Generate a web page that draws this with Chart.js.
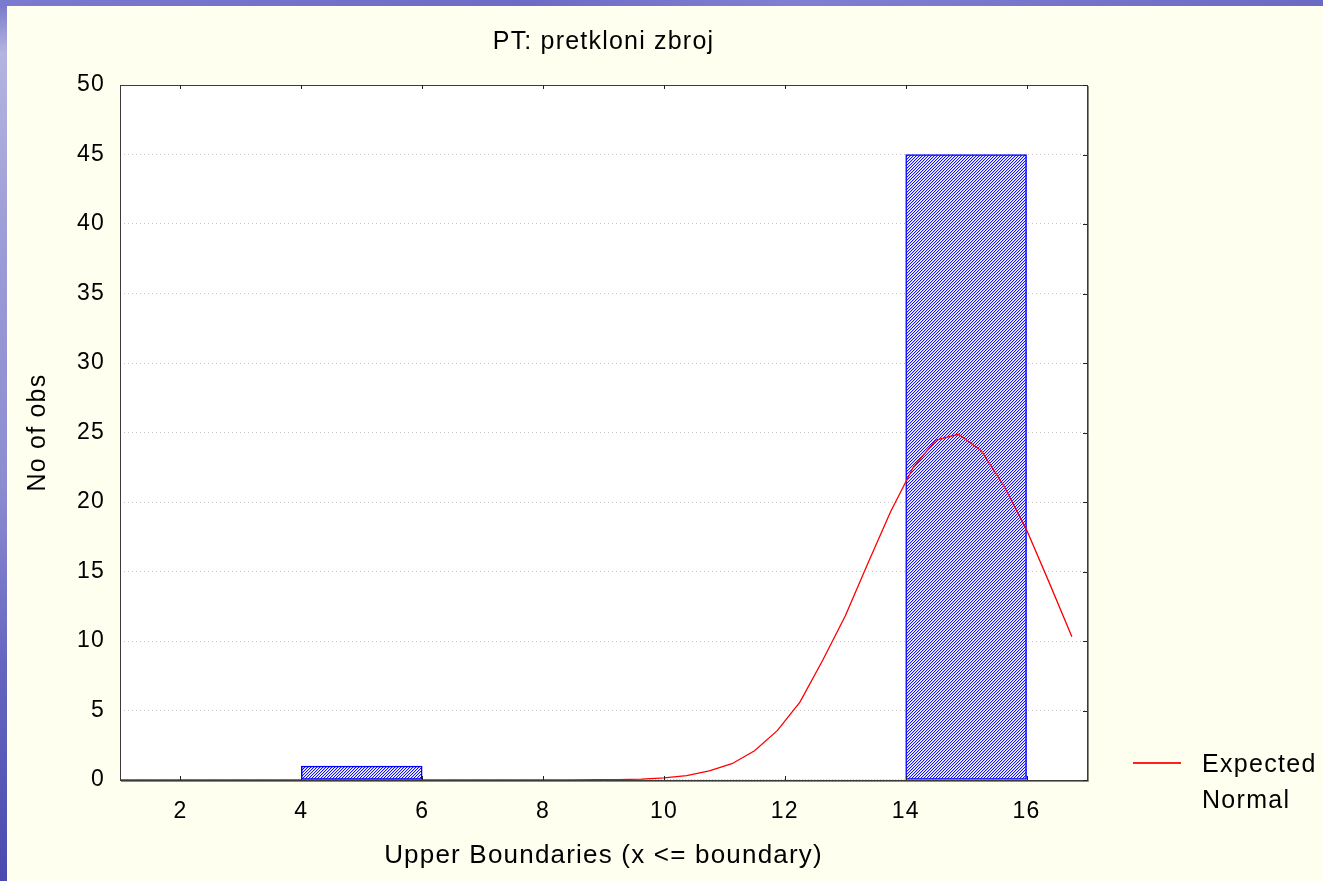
<!DOCTYPE html>
<html>
<head>
<meta charset="utf-8">
<script src="https://cdn.jsdelivr.net/npm/chart.js@4"></script>
<style>
  html, body { margin: 0; padding: 0; }
  body {
    width: 1323px; height: 881px; overflow: hidden; position: relative;
    background: linear-gradient(180deg, #7474c8 0%, #b4b4e0 6%, #9a9ad6 30%, #8c8cd2 55%, #6666c0 75%, #4a4ab0 100%);
    font-family: "Liberation Sans", Arial, sans-serif;
  }
  #topband {
    position: absolute; left: 0; top: 0; width: 1323px; height: 6px;
    background: linear-gradient(90deg, #7a7ad0 0%, #6c6cc6 40%, #8080d2 60%, #6a6ac4 100%);
  }
  #panel {
    position: absolute; left: 7px; top: 6px; width: 1316px; height: 875px;
    background: #fffff0;
  }
  #legend {
    position: absolute; left: 1126px; top: 739px;
    font-size: 25px; line-height: 36px; letter-spacing: 1.3px; color: #000;
  }
  #legend .swatch {
    position: absolute; left: 0; top: 17px; width: 48px; height: 2px; background: #ff2020;
  }
  #legend .txt { position: absolute; left: 69px; top: 0; white-space: nowrap; }
</style>
</head>
<body>
<div id="topband"></div>
<div id="panel">
  <canvas id="histChart" width="1316" height="875"></canvas>
  <div id="legend"><div class="swatch"></div><div class="txt">Expected<br>Normal</div></div>
</div>
<script>
// histogram bins (width 2) and counts
const binCenters = [1, 3, 5, 7, 9, 11, 13, 15];
const binCounts = [0, 0, 1, 0, 0, 0, 0, 45];

// expected normal curve
const normalX = [1, 2.5, 4, 5.5, 7, 8.5, 8.875, 9.25, 9.625, 10, 10.375, 10.75, 11.125, 11.5,
  11.875, 12.25, 12.625, 13, 13.375, 13.75, 14.125, 14.5, 14.875, 15.25, 15.625, 16, 16.375, 16.75];
const normalY = [0, 0, 0, 0, 0, 0.01, 0.02, 0.03, 0.07, 0.15, 0.31, 0.65, 1.17, 2.1,
  3.55, 5.6, 8.6, 11.8, 15.6, 19.3, 22.5, 24.46, 24.87, 23.69, 21.15, 18.0, 14.2, 10.3];

const xTicks = [2, 4, 6, 8, 10, 12, 14, 16];
const yTicks = [0, 5, 10, 15, 20, 25, 30, 35, 40, 45, 50];

const FONT = "'Liberation Sans', Arial, sans-serif";

function makeHatch() {
  const c = document.createElement("canvas");
  c.width = 3;
  c.height = 3;
  const g = c.getContext("2d");
  g.fillStyle = "#ffffff";
  g.fillRect(0, 0, 3, 3);
  for (let x = 0; x < 3; x++) {
    for (let y = 0; y < 3; y++) {
      const k = (x + y) % 3;
      if (k === 2) {
        g.fillStyle = "#1010ff";
        g.fillRect(x, y, 1, 1);
      } else if (k === 0) {
        g.fillStyle = "#c4c4ff";
        g.fillRect(x, y, 1, 1);
      }
    }
  }
  return g.createPattern(c, "repeat");
}

const framePlugin = {
  id: "frame",
  beforeDraw(chart) {
    const { ctx, chartArea: a } = chart;
    ctx.letterSpacing = "1.2px";
    ctx.save();
    ctx.fillStyle = "#ffffff";
    ctx.fillRect(a.left, a.top, a.right - a.left, a.bottom - a.top);
    ctx.restore();
  },
  afterDatasetsDraw(chart) {
    const { ctx, chartArea: a, scales } = chart;
    ctx.save();
    ctx.strokeStyle = "#3a3a3a";
    ctx.lineWidth = 1;
    ctx.strokeRect(a.left + 0.5, a.top + 0.5, a.right - a.left, a.bottom - a.top);
    ctx.strokeStyle = "#8a8a80";
    ctx.beginPath();
    ctx.moveTo(a.right + 1.5, a.top + 1);
    ctx.lineTo(a.right + 1.5, a.bottom + 1.5);
    ctx.lineTo(a.left + 1, a.bottom + 1.5);
    ctx.stroke();
    // small inside ticks on top, bottom and right
    ctx.strokeStyle = "#222";
    ctx.beginPath();
    xTicks.forEach((v) => {
      const px = Math.round(scales.x.getPixelForValue(v)) + 0.5;
      ctx.moveTo(px, a.top);
      ctx.lineTo(px, a.top + 4);
      ctx.moveTo(px, a.bottom);
      ctx.lineTo(px, a.bottom - 4);
    });
    yTicks.forEach((v) => {
      const py = Math.round(scales.y.getPixelForValue(v)) + 0.5;
      ctx.moveTo(a.right, py);
      ctx.lineTo(a.right - 4, py);
    });
    ctx.stroke();
    ctx.restore();
  },
};

const hatch = makeHatch();

new Chart(document.getElementById("histChart"), {
  type: "bar",
  data: {
    datasets: [
      {
        type: "line",
        label: "Expected Normal",
        data: normalX.map((x, i) => ({ x: x, y: normalY[i] })),
        borderColor: "#ff0000",
        borderWidth: 1.3,
        pointRadius: 0,
        tension: 0,
        fill: false,
        order: 1,
      },
      {
        type: "bar",
        label: "No of obs",
        data: binCenters.map((x, i) => ({ x: x, y: binCounts[i] })),
        backgroundColor: hatch,
        borderColor: "#0000ff",
        borderWidth: (ctx) => (ctx.raw && ctx.raw.y ? 1.5 : 0),
        borderSkipped: false,
        barPercentage: 1,
        categoryPercentage: 1,
        order: 2,
      },
    ],
  },
  options: {
    responsive: false,
    animation: false,
    layout: { padding: { left: 0, right: 236, top: 0, bottom: 0 } },
    plugins: {
      legend: { display: false },
      tooltip: { enabled: false },
      title: {
        display: true,
        fullSize: false,
        text: "PT: pretkloni zbroj",
        color: "#000",
        font: { family: FONT, size: 25, weight: "normal" },
        padding: { top: 21, bottom: 28 },
      },
    },
    scales: {
      x: {
        type: "linear",
        min: 1,
        max: 17,
        offset: false,
        grid: { display: false },
        border: { display: false },
        afterBuildTicks: (s) => {
          s.ticks = xTicks.map((v) => ({ value: v }));
        },
        afterFit: (s) => {
          s.height = 101;
        },
        ticks: {
          color: "#000",
          padding: 10,
          font: { family: FONT, size: 23 },
        },
        title: {
          display: true,
          text: "Upper Boundaries (x <= boundary)",
          color: "#000",
          font: { family: FONT, size: 26 },
          padding: 10,
        },
      },
      y: {
        min: 0,
        max: 50,
        grid: { color: "#c4c4c4", lineWidth: 1, drawTicks: false },
        border: { display: false, dash: [1, 3] },
        afterBuildTicks: (s) => {
          s.ticks = yTicks.map((v) => ({ value: v }));
        },
        afterFit: (s) => {
          s.width = 113;
        },
        ticks: {
          color: "#000",
          padding: 15,
          font: { family: FONT, size: 23 },
        },
        title: {
          display: true,
          text: "No of obs",
          color: "#000",
          font: { family: FONT, size: 25 },
          padding: 16,
        },
      },
    },
  },
  plugins: [framePlugin],
});
</script>
</body>
</html>
